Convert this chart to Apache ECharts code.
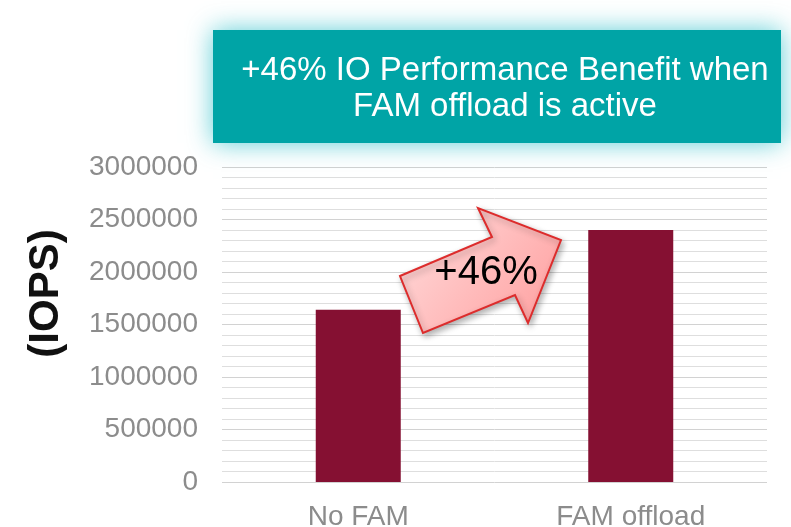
<!DOCTYPE html>
<html>
<head>
<meta charset="utf-8">
<script src="https://cdn.jsdelivr.net/npm/echarts@6/dist/echarts.min.js"></script>
<style>
    html, body { margin: 0; padding: 0; background: #fff; }
    #chart { width: 791px; height: 527px; }
</style>
</head>
<body>
<div id="chart"></div>
<script>
// data
var categories = ['No FAM', 'FAM offload'];
var iops = [1640000, 2400000];
var yTicks = [0, 500000, 1000000, 1500000, 2000000, 2500000, 3000000];
var boxLines = ['+46% IO Performance Benefit when', 'FAM offload is active'];
var gainText = '+46%';

window.onload = function () {
    var chart = echarts.init(document.getElementById('chart'));
    var font = 'Liberation Sans, Arial, sans-serif';

    var option = {
        animation: false,
        grid: { left: 222, right: 24, top: 167, bottom: 45, outerBoundsMode: 'none', containLabel: false },
        xAxis: {
            type: 'category',
            data: categories,
            axisLine: { show: false },
            axisTick: { show: false },
            axisLabel: { color: '#8c8c8c', fontSize: 28, fontFamily: font, margin: 21 }
        },
        yAxis: {
            type: 'value',
            min: yTicks[0],
            max: yTicks[yTicks.length - 1],
            interval: 500000,
            name: '(IOPS)',
            nameLocation: 'middle',
            nameRotate: 90,
            nameGap: 155,
            nameTextStyle: {
                color: '#111', fontSize: 42, fontWeight: 'bold', fontFamily: font,
                padding: [0, 0, 0, 62]
            },
            axisLabel: {
                color: '#8c8c8c', fontSize: 28, fontFamily: font, margin: 24,
                formatter: function (v) { return String(v); }
            },
            splitLine: { lineStyle: { color: '#d2d2d2', width: 1 } },
            minorTick: { show: false, splitNumber: 5 },
            minorSplitLine: { show: true, lineStyle: { color: '#dedede', width: 1 } }
        },
        series: [{
            type: 'bar',
            data: iops,
            barWidth: 85,
            itemStyle: { color: '#851032' }
        }],
        graphic: [
            {
                type: 'rect',
                shape: { x: 213, y: 30, width: 568, height: 113 },
                style: {
                    fill: '#00a4a6',
                    shadowBlur: 24,
                    shadowColor: 'rgba(40, 190, 200, 0.75)'
                },
                z: 10
            },
            {
                type: 'text',
                style: {
                    text: boxLines.join('\n'),
                    x: 505, y: 89,
                    textAlign: 'center',
                    textVerticalAlign: 'middle',
                    fill: '#fff',
                    font: '33px ' + font,
                    lineHeight: 36
                },
                z: 11
            },
            {
                type: 'polygon',
                shape: {
                    points: [[400, 276], [492, 237], [478, 208], [561, 240],
                             [528, 323], [515, 295], [423, 333]]
                },
                style: {
                    fill: new echarts.graphic.LinearGradient(0, 0, 1, 1, [
                        { offset: 0, color: '#ffdede' },
                        { offset: 1, color: '#ff9c9c' }
                    ]),
                    stroke: '#dd2c2c',
                    lineWidth: 2,
                    shadowBlur: 6,
                    shadowOffsetX: 2,
                    shadowOffsetY: 3,
                    shadowColor: 'rgba(0,0,0,0.3)'
                },
                z: 12
            },
            {
                type: 'text',
                style: {
                    text: gainText,
                    x: 486, y: 273,
                    textAlign: 'center',
                    textVerticalAlign: 'middle',
                    fill: '#000',
                    font: '40px ' + font
                },
                z: 13
            }
        ]
    };
    chart.setOption(option);
};
</script>
</body>
</html>
